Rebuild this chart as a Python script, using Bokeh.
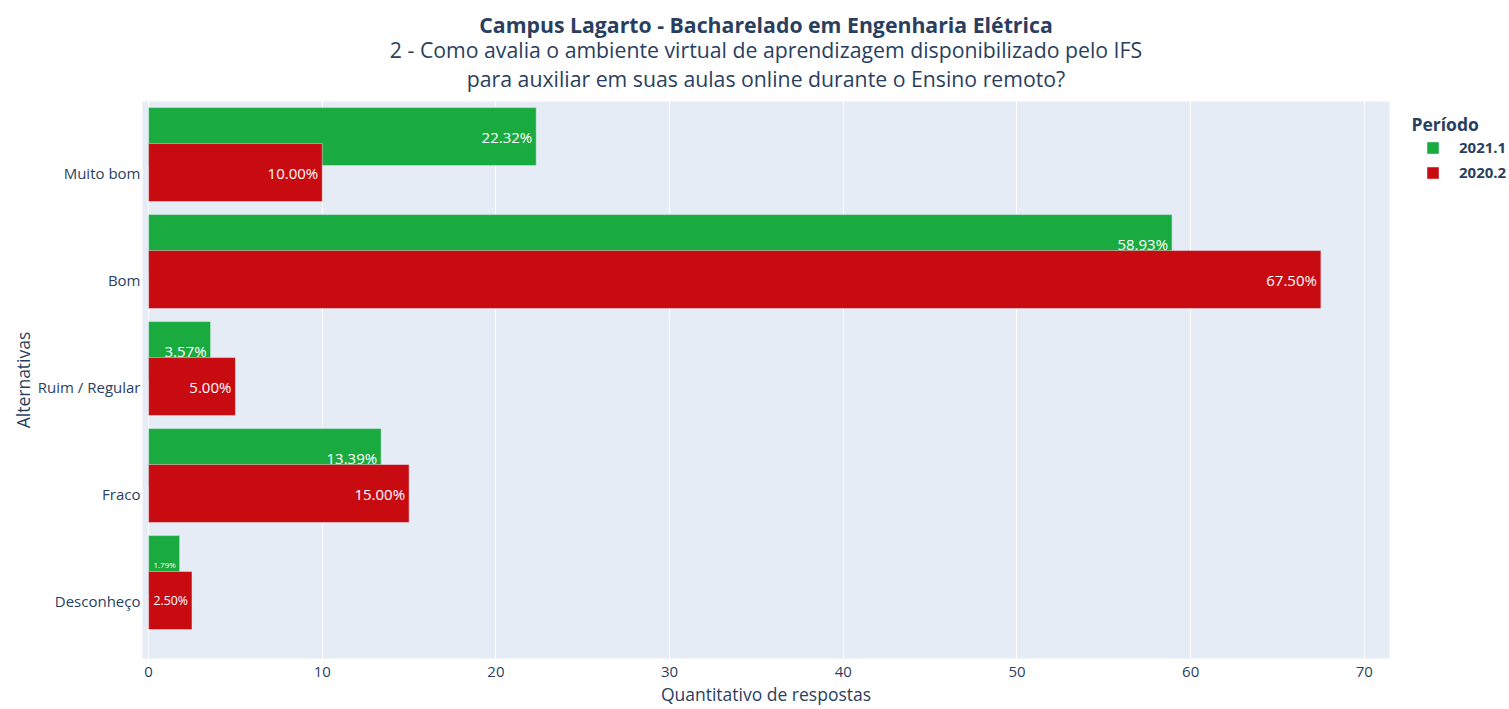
from bokeh.plotting import figure
from bokeh.layouts import row
from bokeh.models import (Range1d, FixedTicker, Legend, LegendItem, Title,
                          ColumnDataSource, Label)
from bokeh.transform import dodge
from bokeh.core.properties import value
from bokeh.embed import file_html
from bokeh.resources import INLINE

# ---------------- data ----------------
categories = ["Muito bom", "Bom", "Ruim / Regular", "Fraco", "Desconheço"]
periods = ["2021.1", "2020.2"]
values_2021_1 = [22.32, 58.93, 3.57, 13.39, 1.79]
values_2020_2 = [10.00, 67.50, 5.00, 15.00, 2.50]
x_ticks = [0, 10, 20, 30, 40, 50, 60, 70]

title_main = "Campus Lagarto - Bacharelado em Engenharia Elétrica"
title_sub1 = "2 - Como avalia o ambiente virtual de aprendizagem disponibilizado pelo IFS"
title_sub2 = "para auxiliar em suas aulas online durante o Ensino remoto?"
x_title = "Quantitativo de respostas"
y_title = "Alternativas"
legend_title = "Período"

# ---------------- style ----------------
FONT = "Open Sans"
TXT = "#2a3f5f"
BG = "#E5ECF6"
GREEN = "#1AAB40"
RED = "#C80B10"

W_MAIN, W_LEG, H = 1398, 109, 708
FL, FR, FT, FB = 142, 1389, 101, 658
X0, X1 = -0.35, 71.45
BAR_H = 0.542
OFFSET = -0.336
Y_TOP, Y_BOT = -0.664, 4.542

p = figure(width=W_MAIN, height=H, output_backend="svg", toolbar_location=None,
           title=None,
           x_range=Range1d(X0, X1), y_range=Range1d(Y_BOT, Y_TOP),
           min_border_left=FL, min_border_right=W_MAIN - FR,
           min_border_top=FT, min_border_bottom=H - FB)

p.background_fill_color = BG
p.border_fill_color = "white"
p.outline_line_color = None

ypos = list(range(len(categories)))
px_per_unit = (FR - FL) / (X1 - X0)


def label_sizes(vals, labels, base=15.0):
    sizes = []
    for v, t in zip(vals, labels):
        em = sum(0.27 if c == "." else (0.82 if c == "%" else 0.572) for c in t)
        natural = em * base
        avail = v * px_per_unit - 9
        s = base if natural <= avail else max(6.0, base * avail / natural)
        sizes.append("%.1fpx" % s)
    return sizes


def make_source(vals):
    labels = ["%.2f%%" % v for v in vals]
    return ColumnDataSource(dict(y=ypos, v=vals, lab=labels,
                                 fs=label_sizes(vals, labels)))


src_g = make_source(values_2021_1)
src_r = make_source(values_2020_2)

p.hbar(y=dodge("y", OFFSET, range=p.y_range), left=0, right="v",
       height=BAR_H, source=src_g, fill_color=GREEN,
       line_color=BG, line_width=0.5)
p.text(x="v", y=dodge("y", OFFSET, range=p.y_range), text="lab", source=src_g,
       text_color="white", text_font=value(FONT), text_font_size="fs",
       text_align="right", text_baseline="middle", x_offset=-4)

p.hbar(y="y", left=0, right="v", height=BAR_H, source=src_r,
       fill_color=RED, line_color=BG, line_width=0.5)
p.text(x="v", y="y", text="lab", source=src_r,
       text_color="white", text_font=value(FONT), text_font_size="fs",
       text_align="right", text_baseline="middle", x_offset=-4)

# ---------------- axes ----------------
p.xaxis.ticker = FixedTicker(ticks=x_ticks)
p.yaxis.ticker = FixedTicker(ticks=ypos)
p.yaxis.major_label_overrides = {i: c for i, c in zip(ypos, categories)}

for ax in (p.xaxis[0], p.yaxis[0]):
    ax.axis_line_color = None
    ax.major_tick_line_color = None
    ax.minor_tick_line_color = None
    ax.major_tick_out = 0
    ax.major_tick_in = 0
    ax.minor_tick_out = 0
    ax.minor_tick_in = 0
    ax.major_label_text_font = FONT
    ax.major_label_text_font_size = "15px"
    ax.major_label_text_color = TXT
    ax.axis_label_text_font = FONT
    ax.axis_label_text_font_size = "17.5px"
    ax.axis_label_text_font_style = "normal"
    ax.axis_label_text_color = TXT

p.xaxis.axis_label = x_title
p.yaxis.axis_label = y_title
p.xaxis.major_label_standoff = 8
p.xaxis.axis_label_standoff = 2
p.yaxis.major_label_standoff = 2
p.yaxis.axis_label_standoff = 0

p.xgrid.grid_line_color = "white"
p.xgrid.grid_line_width = 1
p.ygrid.grid_line_color = None

# ---------------- titles ----------------
TS = "21.25px"
t3 = Title(text=title_sub2, align="center", text_font=FONT, text_font_size=TS,
           text_font_style="normal", text_color=TXT, standoff=18)
t2 = Title(text=title_sub1, align="center", text_font=FONT, text_font_size=TS,
           text_font_style="normal", text_color=TXT, standoff=-23)
t1 = Title(text=title_main, align="center", text_font=FONT, text_font_size=TS,
           text_font_style="bold", text_color=TXT, standoff=12)
p.add_layout(t3, "above")
p.add_layout(t2, "above")
p.add_layout(t1, "above")

# ---------------- legend (separate panel, aligned with the plot frame) -----
frame_h = FB - FT
leg = figure(width=W_LEG, height=H, output_backend="svg", toolbar_location=None,
             title=None, x_range=Range1d(0, W_LEG), y_range=Range1d(frame_h, 0),
             min_border_left=0, min_border_right=0,
             min_border_top=FT, min_border_bottom=H - FB)
leg.axis.visible = False
leg.grid.visible = False
leg.outline_line_color = None
leg.background_fill_color = "white"
leg.border_fill_color = "white"

# legend heading (panel pixel coordinates: 13 px from left, 22 px below frame top)
leg.add_layout(Label(x=13, y=22, text=legend_title, text_font=FONT,
                     text_font_size="17.5px", text_font_style="bold",
                     text_color=TXT, text_baseline="middle", text_align="left"))

nan = float("nan")
sw_g = leg.hbar(y="y", right="v", left=0, height=0.5,
                source=ColumnDataSource(dict(y=[nan], v=[nan])),
                fill_color=GREEN, line_color=BG, line_width=0.5)
sw_r = leg.hbar(y="y", right="v", left=0, height=0.5,
                source=ColumnDataSource(dict(y=[nan], v=[nan])),
                fill_color=RED, line_color=BG, line_width=0.5)

ITEM_H, ITEM_GAP, ITEMS_TOP = 19, 5, 38
leg_h = 2 * ITEM_H + ITEM_GAP
legend = Legend(items=[LegendItem(label=periods[0], renderers=[sw_g]),
                       LegendItem(label=periods[1], renderers=[sw_r])],
                location=(27, frame_h - ITEMS_TOP - leg_h),
                orientation="vertical",
                margin=0, padding=0, spacing=ITEM_GAP,
                glyph_width=15, glyph_height=15, label_height=15,
                label_standoff=19,
                label_text_font=FONT, label_text_font_size="15px",
                label_text_font_style="bold", label_text_color=TXT,
                border_line_alpha=0, background_fill_alpha=0)
leg.add_layout(legend, "center")

layout = row(p, leg)
open("out.html", "w").write(file_html(layout, INLINE))
